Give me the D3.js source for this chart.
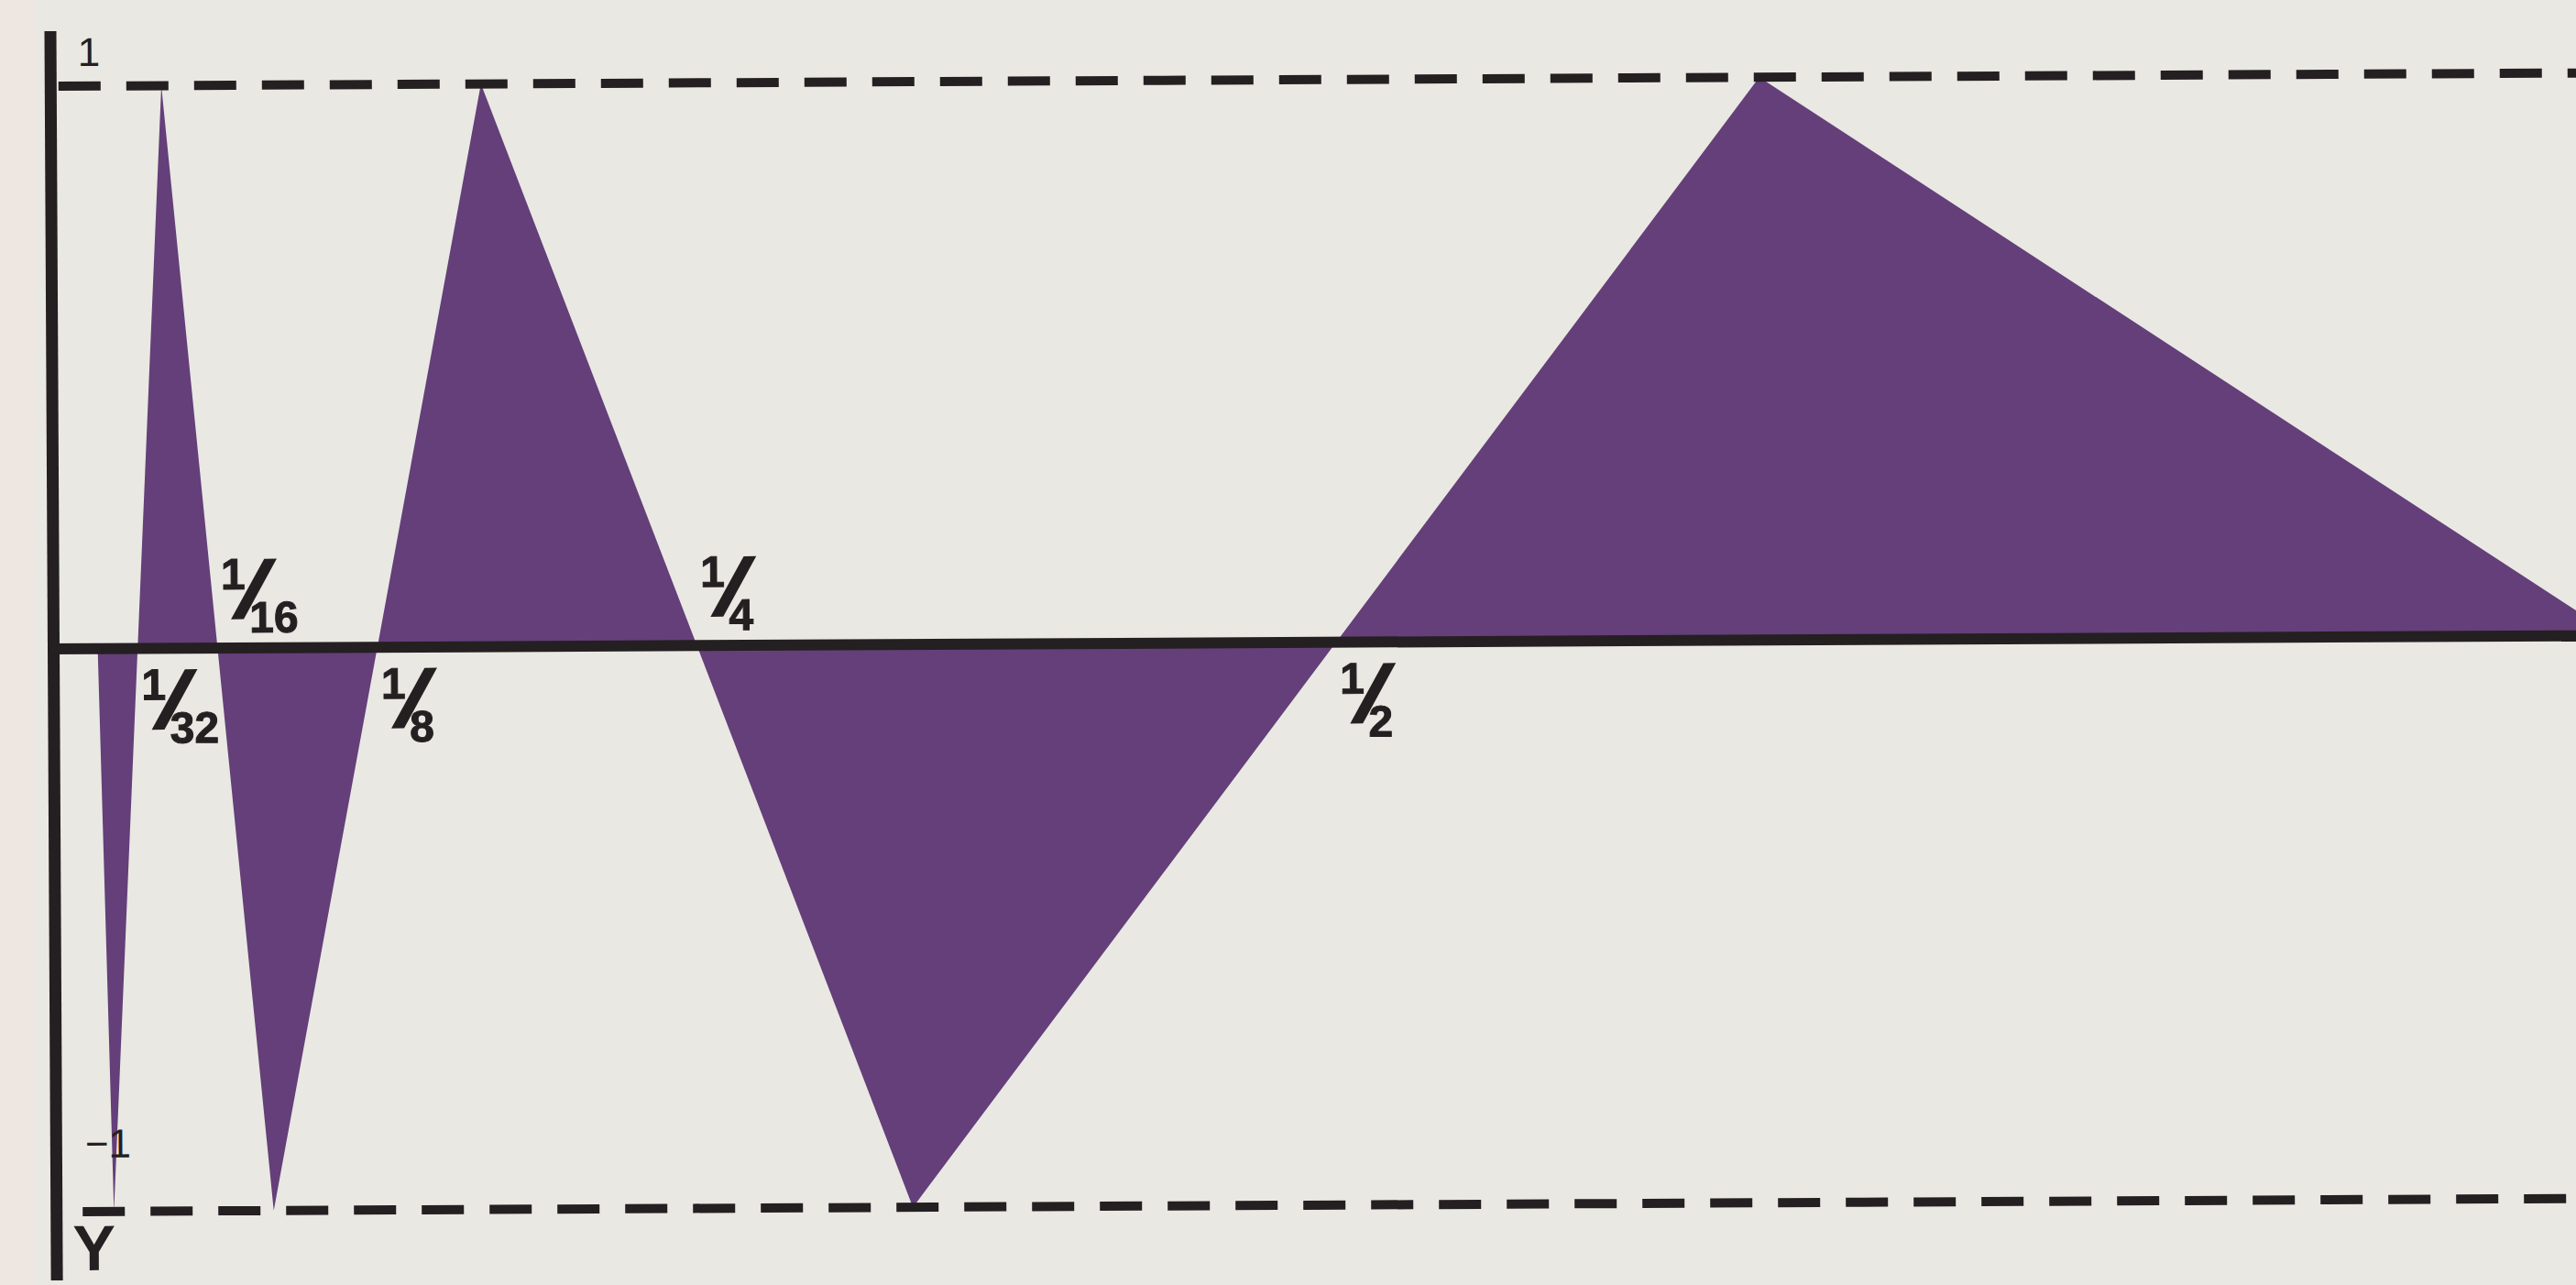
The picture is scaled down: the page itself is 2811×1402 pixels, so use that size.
<!DOCTYPE html>
<html>
<head>
<meta charset="utf-8">
<script src="https://cdn.jsdelivr.net/npm/d3@7"></script>
<style>
html, body { margin: 0; padding: 0; background: #e9e8e3; overflow: hidden; }
</style>
</head>
<body>
<div id="chart-area"></div>
<script>
// corners of the zigzag, left to right (zero crossings and peaks)
var xValues = [1/64, 1/48, 1/32, 1/24, 1/16, 1/12, 1/8, 1/6, 1/4, 1/3, 1/2, 2/3, 1];
var yValues = [0, -1, 0, 1, 0, -1, 0, 1, 0, -1, 0, 1, 0];

// labelled points on the x axis
var tickValues = [1/32, 1/16, 1/8, 1/4, 1/2];
var tickNumerators = ["1", "1", "1", "1", "1"];
var tickDenominators = ["32", "16", "8", "4", "2"];

// y axis
var yTickValues = [1, -1];
var yTickLabels = ["1", "\u22121"];
var yAxisTitle = "Y";

var width = 2811;
var height = 1402;
var ink = "#241f21";
var purple = "#643f79";

var svg = d3.select("#chart-area")
    .append("svg")
        .attr("width", width)
        .attr("height", height);

svg.append("rect")
    .attr("width", width)
    .attr("height", height)
    .attr("fill", "#e9e8e3");
svg.append("rect")
    .attr("width", 38)
    .attr("height", height)
    .attr("fill", "#eee6e1");

// the printed page sits slightly crooked
var g = svg.append("g")
    .attr("transform", "rotate(-0.3, 1405, 701)");

var x = d3.scaleLinear()
    .domain([0, 1])
    .range([63, 2853]);

var y = d3.scaleLinear()
    .domain([-1, 1])
    .range([1315, 87]);

var data = xValues.map((d, i) => { return {x: d, y: yValues[i]}; });

var area = d3.area()
    .x((d) => { return x(d.x); })
    .y0(y(0))
    .y1((d) => { return y(d.y); });

g.append("path")
    .datum(data)
    .attr("d", area)
    .attr("fill", purple);

// dashed guides at +1 and -1
g.selectAll(".guide")
    .data(yTickValues)
    .enter()
    .append("line")
        .attr("class", "guide")
        .attr("x1", (d) => { return d > 0 ? x(0) + 4 : x(0) + 24; })
        .attr("x2", width + 60)
        .attr("y1", (d) => { return y(d); })
        .attr("y2", (d) => { return y(d); })
        .attr("stroke", ink)
        .attr("stroke-width", 10)
        .attr("stroke-dasharray", "46,28");

// axes
var axisX = x(0) - 4.5;
g.append("line")
    .attr("x1", axisX - 6)
    .attr("x2", width + 60)
    .attr("y1", y(0))
    .attr("y2", y(0))
    .attr("stroke", ink)
    .attr("stroke-width", 12);

g.append("line")
    .attr("x1", axisX)
    .attr("x2", axisX)
    .attr("y1", 27)
    .attr("y2", 1390)
    .attr("stroke", ink)
    .attr("stroke-width", 13);

// fraction labels: placed on the side opposite the lobe that follows them
var fs = 48;
tickValues.forEach((t, i) => {
    var k = xValues.indexOf(t);
    var below = yValues[k + 1] > 0;
    var nx = x(t) + 9;
    var nt = below ? y(0) + 22 : y(0) - 98;

    var lab = g.append("g").attr("class", "frac");

    lab.append("text")
        .attr("x", nx - 5)
        .attr("y", nt + 34)
        .attr("font-family", "Liberation Sans, Arial, sans-serif")
        .attr("font-weight", "bold")
        .attr("font-size", fs)
        .attr("fill", ink)
        .attr("stroke", ink)
        .attr("stroke-width", 1)
        .text(tickNumerators[i]);

    lab.append("text")
        .attr("transform", "translate(" + (nx + 31) + "," + (nt + 34) + ") skewX(-20)")
        .attr("x", 0)
        .attr("y", 29)
        .attr("text-anchor", "middle")
        .attr("font-family", "Liberation Sans, Arial, sans-serif")
        .attr("font-weight", "bold")
        .attr("font-size", 83)
        .attr("fill", ink)
        .attr("stroke", ink)
        .attr("stroke-width", 4)
        .text("/");

    lab.append("text")
        .attr("x", nx + 26)
        .attr("y", nt + 81)
        .attr("font-family", "Liberation Sans, Arial, sans-serif")
        .attr("font-weight", "bold")
        .attr("font-size", fs)
        .attr("fill", ink)
        .attr("stroke", ink)
        .attr("stroke-width", 1)
        .text(tickDenominators[i]);
});

// y tick labels
g.selectAll(".ylab")
    .data(yTickValues)
    .enter()
    .append("text")
        .attr("class", "ylab")
        .attr("x", (d) => { return d > 0 ? x(0) + 25 : x(0) + 27; })
        .attr("y", (d) => { return d > 0 ? y(d) - 22 : y(d) - 59; })
        .attr("font-family", "Liberation Sans, Arial, sans-serif")
        .attr("font-size", 44)
        .attr("fill", ink)
        .text((d, i) => { return yTickLabels[i]; });

g.append("text")
    .attr("x", x(0) + 13)
    .attr("y", y(-1) + 64)
    .attr("font-family", "Liberation Sans, Arial, sans-serif")
    .attr("font-weight", "bold")
    .attr("font-size", 70)
    .attr("fill", ink)
    .text(yAxisTitle);
</script>
</body>
</html>
